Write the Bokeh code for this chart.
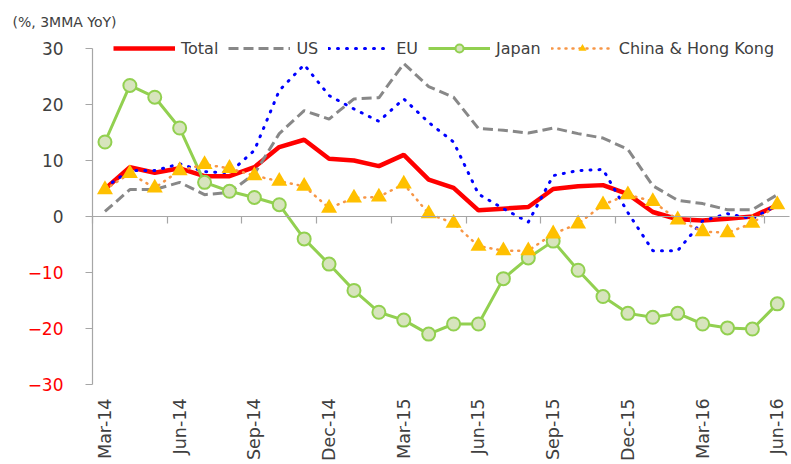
import math
from bokeh.plotting import figure
from bokeh.models import Range1d, LinearAxis, FixedTicker, Legend, LegendItem, Label
from bokeh.embed import file_html
from bokeh.resources import INLINE

months = ["Mar-14", "Apr-14", "May-14", "Jun-14", "Jul-14", "Aug-14", "Sep-14",
          "Oct-14", "Nov-14", "Dec-14", "Jan-15", "Feb-15", "Mar-15", "Apr-15",
          "May-15", "Jun-15", "Jul-15", "Aug-15", "Sep-15", "Oct-15", "Nov-15",
          "Dec-15", "Jan-16", "Feb-16", "Mar-16", "Apr-16", "May-16", "Jun-16"]

total = [4.9, 8.8, 7.8, 8.6, 7.2, 7.2, 8.8, 12.4, 13.7, 10.3, 10.0, 9.0, 11.0, 6.6,
         5.1, 1.1, 1.4, 1.7, 4.9, 5.4, 5.6, 4.0, 0.8, -0.5, -0.7, -0.4, 0.0, 2.0]
us = [0.9, 4.8, 4.8, 6.1, 3.9, 4.3, 7.6, 14.8, 18.9, 17.4, 21.0, 21.2, 27.3, 23.2,
      21.3, 15.7, 15.4, 14.9, 15.8, 14.8, 14.0, 12.0, 5.5, 2.9, 2.3, 1.2, 1.2, 3.9]
eu = [5.2, 8.2, 8.2, 9.4, 8.0, 7.8, 11.8, 22.5, 27.1, 21.6, 19.2, 17.0, 21.0, 16.8,
      13.3, 4.0, 1.4, -1.0, 7.3, 8.2, 8.4, 0.7, -6.1, -6.1, -0.8, 0.5, -0.4, 2.1]
japan = [13.3, 23.4, 21.3, 15.8, 6.1, 4.5, 3.4, 2.1, -4.0, -8.5, -13.2, -17.1, -18.5, -21.0,
         -19.2, -19.2, -11.1, -7.4, -4.4, -9.6, -14.3, -17.3, -18.0, -17.3, -19.2, -19.9, -20.1, -15.6]
china = [4.8, 7.7, 5.1, 8.2, 9.3, 8.6, 7.3, 6.3, 5.4, 1.5, 3.3, 3.5, 5.8, 0.5,
         -1.2, -5.3, -6.1, -6.1, -3.1, -1.3, 2.1, 3.9, 2.7, -0.6, -2.7, -2.9, -1.2, 2.1]

y_min, y_max = -30, 30
pos_ticks = [0, 10, 20, 30]
neg_ticks = [-30, -20, -10]

x = list(range(len(months)))
label_idx = x[::3]
bounds = [i - 0.5 for i in label_idx]
x_lo, x_hi = -0.5, len(months) - 0.5

AX = "#a6a6a6"
TXT = "#404040"
FONT = "DejaVu Sans"

# frame covers the whole canvas; axes are fixed inside it
p = figure(width=791, height=464, x_range=Range1d(-4.195, 27.57), y_range=Range1d(-44.29, 38.57),
           x_axis_type=None, y_axis_type=None, output_backend="svg", toolbar_location=None,
           min_border=0, min_border_left=0, min_border_right=0, min_border_top=0,
           min_border_bottom=0)
p.outline_line_color = None

xlab = LinearAxis(fixed_location=y_min, ticker=FixedTicker(ticks=label_idx, minor_ticks=[]),
                  major_label_overrides={i: months[i] for i in label_idx},
                  axis_line_color=None, major_tick_line_color=None, minor_tick_line_color=None,
                  major_label_orientation=math.pi / 2, major_label_text_font_size="17.5px",
                  major_label_text_color=TXT, major_label_text_font=FONT, major_label_standoff=8)
p.add_layout(xlab, "below")

xzero = LinearAxis(fixed_location=0, bounds=(x_lo, x_hi),
                   ticker=FixedTicker(ticks=[], minor_ticks=bounds),
                   axis_line_color=AX, axis_line_width=1.2, minor_tick_line_color=AX,
                   minor_tick_line_width=1.2, minor_tick_out=7, minor_tick_in=0,
                   major_tick_line_color=None)
p.add_layout(xzero, "below")

ypos = LinearAxis(fixed_location=x_lo, bounds=(y_min, y_max),
                  ticker=FixedTicker(ticks=pos_ticks, minor_ticks=[]),
                  axis_line_color=AX, axis_line_width=1.2, major_tick_line_color=AX,
                  major_tick_line_width=1.2, major_tick_out=7, major_tick_in=0,
                  minor_tick_line_color=None, major_label_text_font_size="17px",
                  major_label_text_color=TXT, major_label_text_font=FONT, major_label_standoff=22)
p.add_layout(ypos, "left")

yneg = LinearAxis(fixed_location=x_lo, bounds=(y_min, y_max),
                  ticker=FixedTicker(ticks=neg_ticks, minor_ticks=[]),
                  axis_line_color=None, major_tick_line_color=AX,
                  major_tick_line_width=1.2, major_tick_out=7, major_tick_in=0,
                  minor_tick_line_color=None, major_label_text_font_size="17px",
                  major_label_text_color="#ff0000", major_label_text_font=FONT, major_label_standoff=22)
p.add_layout(yneg, "left")

r_total = p.line(x, total, line_color="#ff0000", line_width=4.5)
r_us = p.line(x, us, line_color="#888888", line_width=3, line_dash="10 5")
r_eu = p.line(x, eu, line_color="#0000ff", line_width=3, line_dash="1 8", line_cap="round")
r_jl = p.line(x, japan, line_color="#92d050", line_width=3)
r_js = p.scatter(x, japan, marker="circle", size=13, fill_color="#d7e4bd",
                 line_color="#92d050", line_width=2)
r_cl = p.line(x, china, line_color="#f79646", line_width=2.5, line_dash="1 6", line_cap="round")
r_cs = p.scatter(x, china, marker="triangle", size=16, fill_color="#ffc000", line_color=None)

legend = Legend(items=[LegendItem(label="Total", renderers=[r_total]),
                       LegendItem(label="US", renderers=[r_us]),
                       LegendItem(label="EU", renderers=[r_eu]),
                       LegendItem(label="Japan", renderers=[r_jl, r_js]),
                       LegendItem(label="China & Hong Kong", renderers=[r_cl, r_cs])],
                orientation="horizontal", location=(113, 406), glyph_width=62, glyph_height=20,
                label_standoff=6, spacing=10, padding=0, margin=0, border_line_color=None,
                background_fill_alpha=0, label_text_font_size="16px", label_text_color=TXT,
                label_text_font=FONT)
p.add_layout(legend, "center")

p.add_layout(Label(x=x_lo, y=y_max, x_offset=-80, y_offset=26, text="(%, 3MMA YoY)",
                   text_font_size="14px", text_color=TXT, text_baseline="middle",
                   text_align="left", text_font=FONT))

open("out.html", "w").write(file_html(p, INLINE))
